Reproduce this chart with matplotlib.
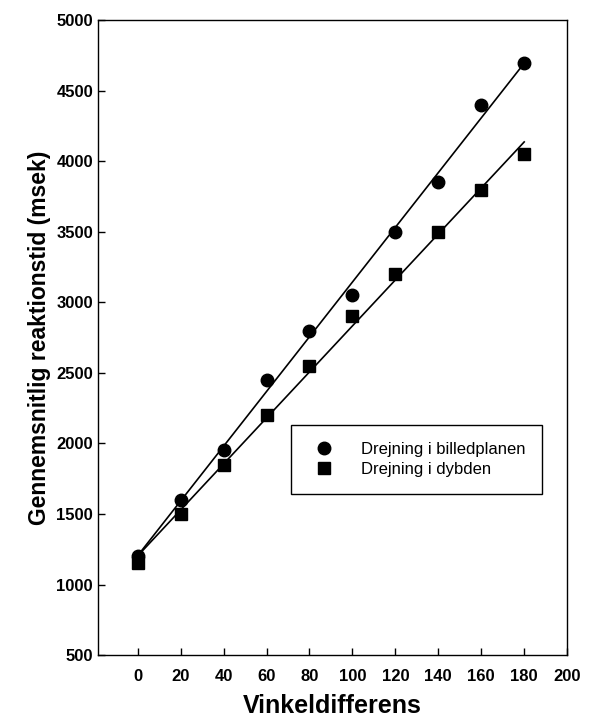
import numpy as np
import matplotlib.pyplot as plt

plt.rcParams['font.family'] = ['Liberation Sans', 'DejaVu Sans']

# vinkeldifferens (grader)
vinkel = [0, 20, 40, 60, 80, 100, 120, 140, 160, 180]
# reaktionstid (msek)
billedplan = [1200, 1600, 1950, 2450, 2800, 3050, 3500, 3850, 4400, 4700]
dybde = [1150, 1500, 1850, 2200, 2550, 2900, 3200, 3500, 3800, 4050]

x = np.array(vinkel)

fig = plt.figure(figsize=(5.92, 7.23), dpi=100)
ax = fig.add_axes([0.1655, 0.094, 0.7925, 0.878])

# regression lines
for ys in (billedplan, dybde):
    k, m = np.polyfit(x, ys, 1)
    ax.plot([x[0], x[-1]], [k*x[0] + m, k*x[-1] + m], color='black', lw=1.2)

ax.plot(vinkel, billedplan, 'o', color='black', ms=9, label='Drejning i billedplanen')
ax.plot(vinkel, dybde, 's', color='black', ms=8, label='Drejning i dybden')

ax.set_xlim(-18.5, 200)
ax.set_ylim(500, 5000)
ax.set_xticks(range(0, 201, 20))
ax.set_yticks(range(500, 5001, 500))
ax.tick_params(direction='in', length=5, labelsize=12, width=1)
ax.tick_params(axis='x', pad=10)
for lab in ax.get_xticklabels() + ax.get_yticklabels():
    lab.set_fontweight('bold')
for s in ax.spines.values():
    s.set_linewidth(1.0)

ax.set_xlabel('Vinkeldifferens', fontsize=18, fontweight='bold', labelpad=7)
ax.set_ylabel('Gennemsnitlig reaktionstid (msek)', fontsize=16.5, fontweight='bold', labelpad=4)

leg = ax.legend(loc='upper left', bbox_to_anchor=(0.394, 0.375), fancybox=False,
                edgecolor='black', fontsize=12, handletextpad=1.2, borderpad=1.0,
                labelspacing=0.3, framealpha=1)
leg.get_frame().set_linewidth(1.0)

plt.savefig('out.png', dpi=100)
